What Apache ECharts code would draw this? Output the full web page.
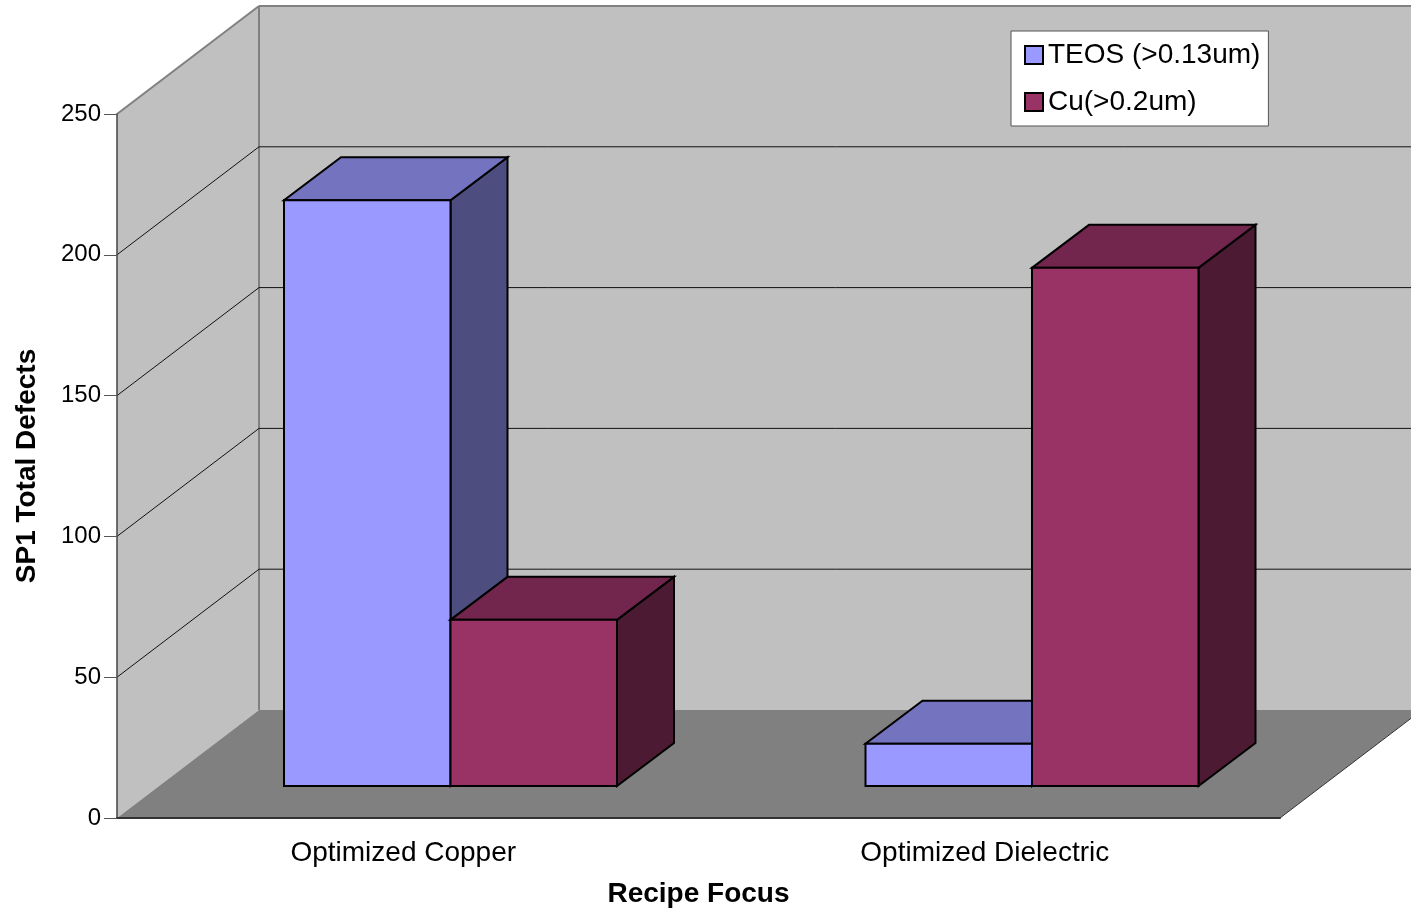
<!DOCTYPE html>
<html>
<head>
<meta charset="utf-8">
<title>SP1 Total Defects by Recipe Focus</title>
<style>html,body{margin:0;padding:0;background:#fff}#chart{width:1411px;height:913px}</style>
<script src="https://cdn.jsdelivr.net/npm/echarts@6/dist/echarts.min.js"></script>
</head>
<body>
<div id="chart"></div>
<script>
// Chart data
const categories = ['Optimized Copper', 'Optimized Dielectric'];
const teosValues = [208, 15];
const cuValues = [59, 184];
const yTicks = [0, 50, 100, 150, 200, 250];

// Projection of the pseudo-3D box, in pixels
const BOX_DX = 142, BOX_DY = 108;      // depth of walls and floor
const FRONT_DX = 42.75, FRONT_DY = 32; // gap from the front edge to the bars
const BAR_DX = 57, BAR_DY = 43;        // depth of each bar
const BAR_RATIO = 166.5 / 581.5;       // bar width as a share of the category band

const FONT = '"Liberation Sans", Arial, sans-serif';

function poly(points, fill, stroke, lineWidth) {
  return {
    type: 'polygon',
    shape: { points: points },
    style: { fill: fill, stroke: stroke || null, lineWidth: lineWidth || 0, lineJoin: 'miter' }
  };
}
function line(a, b, stroke, lineWidth) {
  return {
    type: 'line',
    shape: { x1: a[0], y1: a[1], x2: b[0], y2: b[1] },
    style: { stroke: stroke, lineWidth: lineWidth }
  };
}

// Draws walls and floor once, and one gridline per tick value
function renderBox(params, api) {
  const rect = params.coordSys;
  const l = rect.x, r = rect.x + rect.width, t = rect.y, b = rect.y + rect.height;
  const kids = [];
  if (params.dataIndex === 0) {
    kids.push(poly([[l, b], [l, t], [l + BOX_DX, t - BOX_DY], [l + BOX_DX, b - BOX_DY]], '#C0C0C0'));
    kids.push(poly([[l + BOX_DX, b - BOX_DY], [l + BOX_DX, t - BOX_DY], [r + BOX_DX, t - BOX_DY], [r + BOX_DX, b - BOX_DY]], '#C0C0C0'));
    kids.push(poly([[l, b], [r, b], [r + BOX_DX, b - BOX_DY], [l + BOX_DX, b - BOX_DY]], '#808080'));
    kids.push(line([l, t], [l + BOX_DX, t - BOX_DY], '#808080', 2));
    kids.push(line([l + BOX_DX, t - BOX_DY], [r + BOX_DX, t - BOX_DY], '#808080', 2));
    kids.push(line([l + BOX_DX, t - BOX_DY], [l + BOX_DX, b - BOX_DY], '#808080', 2));
    kids.push(line([r, b], [r + BOX_DX, b - BOX_DY], '#333333', 1));
  }
  const v = api.value(1);
  if (v > 0 && v < yTicks[yTicks.length - 1]) {
    const y = api.coord([0, v])[1];
    kids.push(line([l, y], [l + BOX_DX, y - BOX_DY], '#111111', 1));
    kids.push(line([l + BOX_DX, y - BOX_DY], [r + BOX_DX, y - BOX_DY], '#111111', 1));
  }
  return { type: 'group', children: kids };
}

// Returns a renderer for one bar of a cluster; slot 0 sits left of the centre, slot 1 right
function barRenderer(slot, front, top, side) {
  return function (params, api) {
    const idx = api.value(0);
    const band = api.size([1, 0])[0];
    const w = band * BAR_RATIO;
    const centre = api.coord([idx, 0]);
    const head = api.coord([idx, api.value(1)]);
    const x0 = centre[0] + FRONT_DX + (slot - 1) * w;
    const x1 = x0 + w;
    const yb = centre[1] - FRONT_DY;
    const yt = head[1] - FRONT_DY;
    return {
      type: 'group',
      children: [
        poly([[x1, yb], [x1, yt], [x1 + BAR_DX, yt - BAR_DY], [x1 + BAR_DX, yb - BAR_DY]], side, '#000', 2),
        poly([[x0, yt], [x1, yt], [x1 + BAR_DX, yt - BAR_DY], [x0 + BAR_DX, yt - BAR_DY]], top, '#000', 2),
        poly([[x0, yb], [x0, yt], [x1, yt], [x1, yb]], front, '#000', 2)
      ]
    };
  };
}

const chart = echarts.init(document.getElementById('chart'), null, { renderer: 'canvas' });
chart.setOption({
  animation: false,
  backgroundColor: '#ffffff',
  textStyle: { fontFamily: FONT, color: '#000' },
  grid: { left: 117, top: 114, width: 1163, height: 709.5, containLabel: false },
  legend: {
    left: 1011, top: 31, orient: 'vertical',
    data: ['TEOS (>0.13um)', 'Cu(>0.2um)'],
    icon: 'rect', itemWidth: 18, itemHeight: 18, itemGap: 19,
    padding: [10, 8, 10, 13],
    backgroundColor: '#ffffff', borderColor: '#555555', borderWidth: 1,
    itemStyle: { borderColor: '#000', borderWidth: 2 },
    textStyle: { fontFamily: FONT, fontSize: 28, color: '#000' }
  },
  xAxis: {
    type: 'category', data: categories, z: 10,
    name: 'Recipe Focus', nameLocation: 'middle', nameGap: 76,
    nameTextStyle: { fontFamily: FONT, fontSize: 28, fontWeight: 'bold', color: '#000', verticalAlign: 'middle' },
    axisLine: { lineStyle: { color: '#333333', width: 2 } },
    axisTick: { length: 14, lineStyle: { color: '#777777', width: 1.5 } },
    axisLabel: { fontFamily: FONT, fontSize: 28, color: '#000', margin: 21, padding: [0, 9, 0, 0] }
  },
  yAxis: {
    type: 'value', min: 0, max: 250, interval: 50, z: 10,
    name: 'SP1 Total Defects', nameLocation: 'middle', nameGap: 90, nameRotate: 90,
    nameTextStyle: { fontFamily: FONT, fontSize: 28, fontWeight: 'bold', color: '#000', verticalAlign: 'middle' },
    axisLine: { show: true, lineStyle: { color: '#444444', width: 1.5 } },
    axisTick: { show: true, length: 13, lineStyle: { color: '#555555', width: 1 } },
    axisLabel: { fontFamily: FONT, fontSize: 24, color: '#000', margin: 16 },
    splitLine: { show: false }
  },
  series: [
    {
      type: 'custom', name: 'box', z: 1, silent: true,
      renderItem: renderBox, encode: { x: 0, y: 1 },
      data: yTicks.map(v => [0, v])
    },
    {
      type: 'custom', name: 'TEOS (>0.13um)', z: 2,
      itemStyle: { color: '#9999FF' },
      renderItem: barRenderer(0, '#9999FF', '#7373BF', '#4D4D80'),
      encode: { x: 0, y: 1 },
      data: teosValues.map((v, i) => [i, v])
    },
    {
      type: 'custom', name: 'Cu(>0.2um)', z: 3,
      itemStyle: { color: '#993366' },
      renderItem: barRenderer(1, '#993366', '#73264D', '#4D1A33'),
      encode: { x: 0, y: 1 },
      data: cuValues.map((v, i) => [i, v])
    }
  ]
});
</script>
</body>
</html>
